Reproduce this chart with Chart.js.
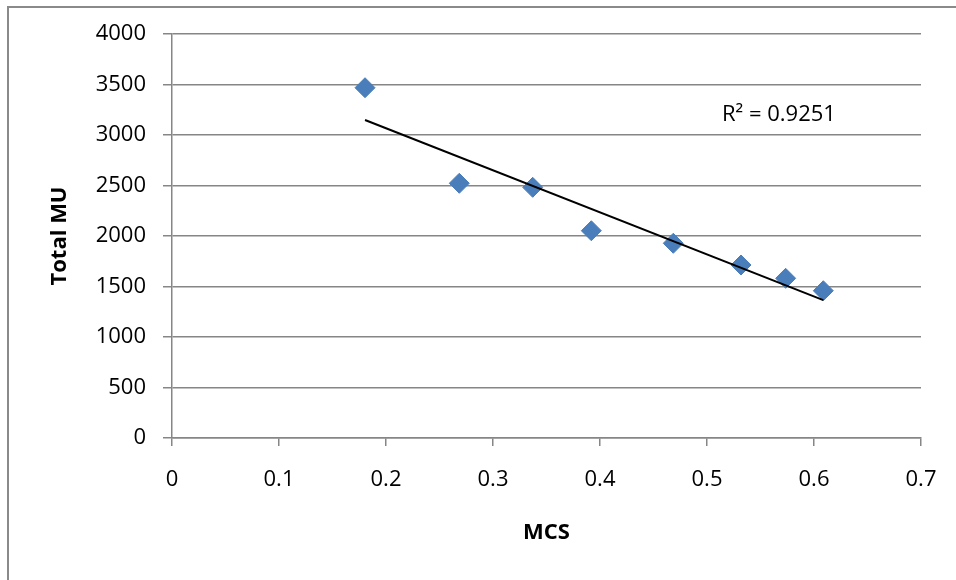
<!DOCTYPE html>
<html>
<head>
<meta charset="utf-8">
<script src="https://cdn.jsdelivr.net/npm/chart.js@4"></script>
<style>
  html, body { margin: 0; padding: 0; background: #fff; }
  #wrap { position: relative; width: 956px; height: 580px; }
  #frame { position: absolute; left: 7px; top: 6px; right: -10px; bottom: -10px;
           border-left: 2px solid #8a8a8a; border-top: 2px solid #8a8a8a; }
  canvas { position: absolute; left: 0; top: 0; }
</style>
</head>
<body>
<div id="wrap">
  <div id="frame"></div>
  <canvas id="grafico" width="956" height="580"></canvas>
</div>
<script>
// dados
let mcs = [0.1804, 0.2685, 0.3371, 0.3919, 0.4685, 0.5318, 0.5735, 0.6087]
let totalMU = [3468, 2522, 2482, 2052, 1928, 1713, 1581, 1458]
let r2Texto = 'R\u00B2 = 0.9251'

let xTicks = [0, 0.1, 0.2, 0.3, 0.4, 0.5, 0.6, 0.7]
let yTicks = [0, 500, 1000, 1500, 2000, 2500, 3000, 3500, 4000]

let pontos = mcs.map((x, i) => ({ x: x, y: totalMU[i] }))

// linha de tendencia (minimos quadrados)
let n = mcs.length
let mx = mcs.reduce((a, b) => a + b, 0) / n
let my = totalMU.reduce((a, b) => a + b, 0) / n
let sxy = 0, sxx = 0
mcs.forEach((x, i) => {
  sxy += (x - mx) * (totalMU[i] - my)
  sxx += (x - mx) * (x - mx)
})
let inclinacao = sxy / sxx
let intercepto = my - inclinacao * mx
let xMin = Math.min(...mcs), xMax = Math.max(...mcs)
let tendencia = [
  { x: xMin, y: intercepto + inclinacao * xMin },
  { x: xMax, y: intercepto + inclinacao * xMax }
]

const cinza = '#868686'
const fonte = "'Open Sans', 'Liberation Sans', sans-serif"

const textoR2 = {
  id: 'textoR2',
  afterDatasetsDraw(chart) {
    const { ctx, scales: { x, y } } = chart
    ctx.save()
    ctx.font = '22px ' + fonte
    ctx.fillStyle = '#000'
    ctx.textAlign = 'left'
    ctx.textBaseline = 'middle'
    ctx.fillText(r2Texto, x.getPixelForValue(0.514), y.getPixelForValue(3200))
    ctx.restore()
  }
}

new Chart(document.getElementById('grafico'), {
  type: 'scatter',
  data: {
    datasets: [{
      label: 'Total MU',
      data: pontos,
      pointStyle: 'rectRot',
      pointRadius: 10,
      pointHoverRadius: 10,
      backgroundColor: '#4a7ebb',
      borderColor: '#4a7ebb',
      borderWidth: 1,
      order: 1
    }, {
      label: 'tendencia',
      type: 'line',
      data: tendencia,
      borderColor: '#000',
      borderWidth: 2,
      pointRadius: 0,
      fill: false,
      order: 0
    }]
  },
  options: {
    responsive: false,
    animation: false,
    layout: { padding: { left: 0, right: 35, top: 34, bottom: 0 } },
    plugins: {
      legend: { display: false },
      tooltip: { enabled: false }
    },
    scales: {
      x: {
        type: 'linear',
        min: 0,
        max: 0.7,
        afterBuildTicks: s => { s.ticks = xTicks.map(v => ({ value: v })) },
        afterFit: s => { s.height = 142; s.paddingLeft = 0; s.paddingRight = 0 },
        grid: { drawOnChartArea: false, drawTicks: true, tickLength: 8, color: cinza, lineWidth: 1.5 },
        border: { color: cinza, width: 1.5 },
        ticks: { color: '#000', font: { family: fonte, size: 22 }, padding: 21, maxRotation: 0,
                 callback: v => String(v) },
        title: { display: true, text: 'MCS', color: '#000',
                 font: { family: fonte, size: 22, weight: 'bold' }, padding: { top: 0, bottom: 34 } }
      },
      y: {
        min: 0,
        max: 4000,
        afterBuildTicks: s => { s.ticks = yTicks.map(v => ({ value: v })) },
        afterFit: s => { s.width = 172; s.paddingTop = 0; s.paddingBottom = 0 },
        grid: { color: cinza, lineWidth: 1.5, tickLength: 9 },
        border: { color: cinza, width: 1.5 },
        ticks: { color: '#000', font: { family: fonte, size: 22 }, padding: 17,
                 callback: v => String(v) },
        title: { display: true, text: 'Total MU', color: '#000',
                 font: { family: fonte, size: 22, weight: 'bold' }, padding: { top: 47, bottom: 0 } }
      }
    }
  },
  plugins: [textoR2]
})
</script>
</body>
</html>
